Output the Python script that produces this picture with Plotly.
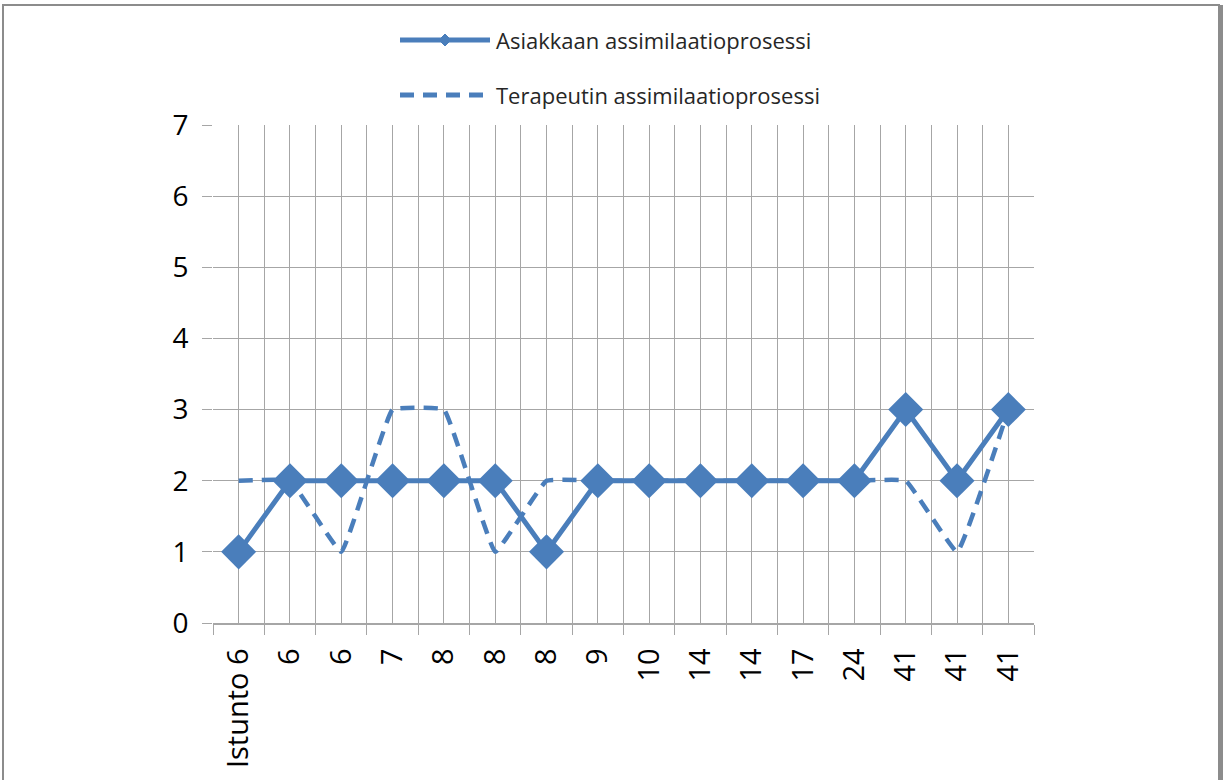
import plotly.graph_objects as go

sessions = ["Istunto 6", "6", "6", "7", "8", "8", "8", "9", "10", "14", "14", "17", "24", "41", "41", "41"]
client = [1, 2, 2, 2, 2, 2, 1, 2, 2, 2, 2, 2, 2, 3, 2, 3]
therapist = [2, 2, 1, 3, 3, 1, 2, 2, 2, 2, 2, 2, 2, 2, 1, 3]
client_name = "Asiakkaan assimilaatioprosessi"
therapist_name = "Terapeutin assimilaatioprosessi"
y_ticks = [0, 1, 2, 3, 4, 5, 6, 7]

BLUE = "#4a7ebb"
GRID = "#a6a6a6"
FONT = "Open Sans, Liberation Sans, DejaVu Sans, sans-serif"
LEGFONT = "Open Sans, Liberation Sans, sans-serif"

W, H = 1224, 780
PL, PR, PT, PB = 213, 1034, 125, 623
PW, PH = PR - PL, PB - PT


def px(xp):
    return (xp - PL) / PW


def py(yp):
    return (PB - yp) / PH


idx = list(range(len(sessions)))

fig = go.Figure()
fig.add_trace(go.Scatter(
    x=idx, y=therapist, mode="lines", name=therapist_name,
    line=dict(color=BLUE, width=4.5, dash="14px,9px", shape="spline", smoothing=0.25),
    showlegend=False, hoverinfo="y"))
fig.add_trace(go.Scatter(
    x=idx, y=client, mode="lines+markers", name=client_name,
    line=dict(color=BLUE, width=5),
    marker=dict(symbol="diamond", size=27, color=BLUE),
    showlegend=False, hoverinfo="y"))

# manual legend (Excel-style, top centred)
shapes = []
annotations = []
L0, L1 = px(400), px(490)
y1, y2 = py(40), py(95)
shapes.append(dict(type="line", xref="paper", yref="paper", x0=L0, x1=L1, y0=y1, y1=y1,
                   line=dict(color=BLUE, width=5)))
cx = (L0 + L1) / 2
dx, dy = 6 / PW, 6 / PH
shapes.append(dict(type="path", xref="paper", yref="paper",
                   path=f"M {cx-dx} {y1} L {cx} {y1+dy} L {cx+dx} {y1} L {cx} {y1-dy} Z",
                   fillcolor=BLUE, line=dict(color=BLUE, width=1)))
shapes.append(dict(type="line", xref="paper", yref="paper", x0=L0, x1=L1, y0=y2, y1=y2,
                   line=dict(color=BLUE, width=5, dash="14px,9px")))
for yy, name in ((y1, client_name), (y2, therapist_name)):
    annotations.append(dict(xref="paper", yref="paper", x=px(494), y=yy, text=name,
                            showarrow=False, xanchor="left", yanchor="middle",
                            font=dict(family=LEGFONT, size=22, color="#262626")))

# outer frame
shapes.append(dict(type="rect", xref="paper", yref="paper",
                   x0=px(3), x1=px(1219), y0=py(800), y1=py(5),
                   line=dict(color="#8c8c8c", width=2)))
shapes.append(dict(type="line", xref="paper", yref="paper",
                   x0=px(1221), x1=px(1221), y0=py(800), y1=py(5),
                   line=dict(color="#8c8c8c", width=4)))

fig.update_layout(
    width=W, height=H,
    margin=dict(l=PL, r=W - PR, t=PT, b=H - PB),
    paper_bgcolor="white", plot_bgcolor="white",
    shapes=shapes, annotations=annotations,
    xaxis=dict(
        range=[-0.5, len(sessions) - 0.5],
        tickmode="array", tickvals=idx, ticktext=sessions,
        tickangle=-90, ticks="outside", ticklen=12, tickcolor="rgba(0,0,0,0)",
        tickfont=dict(family=FONT, size=29, color="black"),
        showgrid=True, gridcolor=GRID, gridwidth=1,
        showline=True, linecolor=GRID, linewidth=1.5,
        zeroline=False,
        minor=dict(tickmode="linear", tick0=-0.5, dtick=1, ticks="outside", ticklen=10,
                   tickcolor=GRID, showgrid=True, gridcolor=GRID, gridwidth=1),
    ),
    yaxis=dict(
        range=[0, 7], tickmode="array", tickvals=y_ticks,
        ticks="outside", ticklen=10, tickcolor=GRID,
        tickfont=dict(family=FONT, size=28, color="black"),
        ticklabelstandoff=8,
        showgrid=True, gridcolor=GRID, gridwidth=1,
        zeroline=False, showline=False,
    ),
)

fig.write_html("out.html", config={"displayModeBar": False},
               post_script="document.body.style.margin='0px';")
